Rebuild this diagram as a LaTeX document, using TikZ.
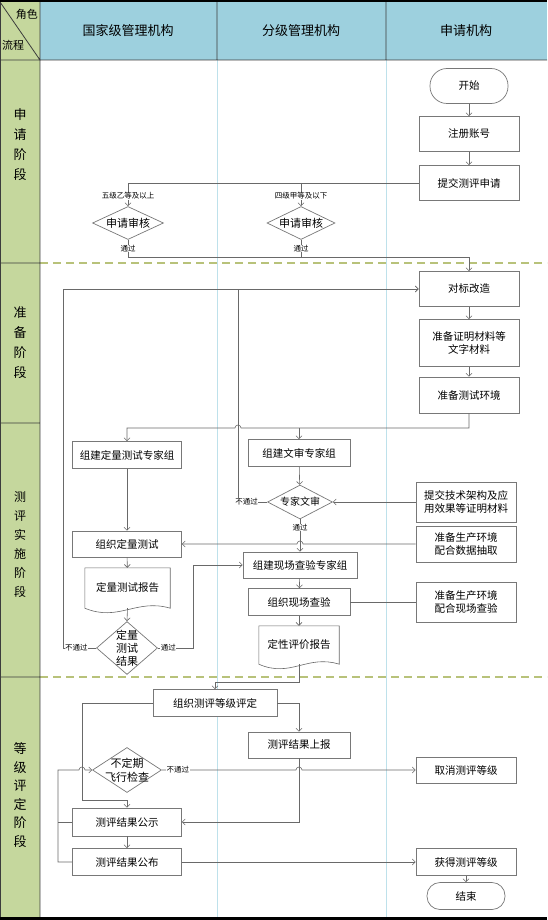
\documentclass[tikz,border=0pt]{standalone}
\usepackage{fontspec}
\setmainfont{Noto Sans CJK SC}
\usepackage{tikz}
\usetikzlibrary{arrows.meta,shapes.geometric,calc}
\definecolor{flowhead}{RGB}{157,208,222}
\definecolor{flowside}{RGB}{197,215,157}
\definecolor{flowlane}{RGB}{190,225,235}
\definecolor{flowdash}{RGB}{184,194,122}
\definecolor{flowline}{RGB}{105,105,105}
\definecolor{flowedge}{RGB}{120,120,120}
\definecolor{flowdark}{RGB}{60,60,60}

\begin{document}
\begin{tikzpicture}[
  x=1pt,y=-1pt,
  >={Straight Barb[length=3pt,width=6pt]},
  box/.style 2 args={draw=flowedge,fill=white,line width=0.7pt,minimum width=#1,
                     minimum height=#2,inner sep=1pt,align=center,
                     font=\fontsize{10.5}{13}\selectfont},
  term/.style 2 args={box={#1}{#2},rounded corners=12pt},
  dia/.style 2 args={diamond,draw=flowedge,fill=white,line width=0.7pt,
                     minimum width=#1,minimum height=#2,inner sep=0pt},
  doc/.style 2 args={minimum width=#1,minimum height=#2,inner sep=0pt,
                     align=center,font=\fontsize{10.5}{13}\selectfont},
  dtext/.style={align=center,inner sep=0pt,font=\fontsize{11}{13.5}\selectfont},
  headtext/.style={font=\fontsize{13}{15}\selectfont},
  sidetext/.style={align=center,font=\fontsize{13}{20}\selectfont},
  line/.style={draw=flowline,line width=0.6pt},
  arr/.style={line,->},
  lbl/.style={fill=white,inner sep=0.5pt,font=\fontsize{7.5}{9}\selectfont},
]
\useasboundingbox (0,0) rectangle (547,920);

%% ── Header row and phase column ─────────────────────────────────────────────
\fill[flowhead] (40,0) rectangle (547,60);
\fill[flowside] (0,0) rectangle (40,917);
\draw[flowlane,line width=0.8pt] (217,60) -- (217,917) (386,60) -- (386,917);
\draw[flowdash,line width=1.2pt,dash pattern=on 8pt off 5pt]
  (40,263) -- (547,263) (40,677) -- (547,677);
\draw[flowdark,line width=0.8pt]
  (0,60) -- (547,60) (40,0) -- (40,917) (217,0) -- (217,60) (386,0) -- (386,60)
  (0,263) -- (40,263) (0,423) -- (40,423) (0,677) -- (40,677) (0,2) -- (40,60)
  (0.5,0) -- (0.5,920);
\fill[black] (0,0) rectangle (547,2);
\fill[black] (0,917) rectangle (547,920);

\node[font=\fontsize{11}{13}\selectfont] (hRole) at (27,14) {角色};
\node[font=\fontsize{11}{13}\selectfont] (hFlow) at (13,45) {流程};
\node[headtext] (hNat) at (128,31) {国家级管理机构};
\node[headtext] (hLvl) at (301,31) {分级管理机构};
\node[headtext] (hApp) at (466,31) {申请机构};

\node[sidetext] (pApply) at (20,145) {申\\请\\阶\\段};
\node[sidetext] (pPrep)  at (20,343) {准\\备\\阶\\段};
\node[sidetext,font=\fontsize{12}{19}\selectfont] (pTest) at (20,545) {测\\评\\实\\施\\阶\\段};
\node[sidetext,font=\fontsize{13}{18.5}\selectfont] (pGrade) at (20,795) {等\\级\\评\\定\\阶\\段};

%% ── Application phase ───────────────────────────────────────────────────────
\node[term={78pt}{35pt},rounded corners=17pt] (start) at (469,86) {开始};
\node[box={100pt}{35pt}] (reg) at (469,134) {注册账号};
\node[box={100pt}{35pt}] (submit) at (469,183) {提交测评申请};

\node[dia={71pt}{33pt}] (chkA) at (128,223) {};
\node[dtext] at (chkA) {申请审核};
\node[dia={68pt}{33pt}] (chkB) at (301,223) {};
\node[dtext] at (chkB) {申请审核};

%% ── Preparation phase ───────────────────────────────────────────────────────
\node[box={100pt}{35pt}] (reform) at (469,289) {对标改造};
\node[box={100pt}{47pt}] (docs) at (469,343) {准备证明材料等\\文字材料};
\node[box={100pt}{36pt}] (env) at (469,395) {准备测试环境};

%% ── Evaluation phase ────────────────────────────────────────────────────────
\node[box={109pt}{27pt}] (qgrp) at (127,455) {组建定量测试专家组};
\node[box={102pt}{27pt}] (wgrp) at (299,453) {组建文审专家组};
\node[dia={65pt}{34pt}] (wrev) at (300,502) {};
\node[dtext,font=\fontsize{10}{12}\selectfont] at (wrev) {专家文审};
\node[box={100pt}{40pt}] (subtech) at (466,502) {提交技术架构及应\\用效果等证明材料};

\node[box={109pt}{26pt}] (qtest) at (127,544) {组织定量测试};
\node[box={100pt}{36pt}] (prepA) at (466,544) {准备生产环境\\配合数据抽取};

\node[doc={85pt}{40pt}] (qrep) at (127.5,588) {定量测试报告};
\draw[line,fill=white] (qrep.south west) -- (qrep.north west) -- (qrep.north east)
  -- (qrep.south east) .. controls +(-34,-10) and +(34,14) .. (qrep.south west);
\node[doc={85pt}{40pt}] at (qrep) {定量测试报告};
\node[dia={61pt}{53pt}] (qres) at (127,648) {};
\node[dtext,font=\fontsize{11}{13}\selectfont] at (qres) {定量\\测试\\结果};

\node[box={114pt}{26pt}] (sgrp) at (300,565) {组建现场查验专家组};
\node[box={102pt}{27pt}] (scheck) at (299,602) {组织现场查验};
\node[box={100pt}{40pt}] (prepB) at (466,602) {准备生产环境\\配合现场查验};

\node[doc={80pt}{38pt}] (srep) at (299,645) {定性评价报告};
\draw[line,fill=white] (srep.south west) -- (srep.north west) -- (srep.north east)
  -- (srep.south east) .. controls +(-32,-10) and +(32,14) .. (srep.south west);
\node[doc={80pt}{38pt}] at (srep) {定性评价报告};

%% ── Grading phase ───────────────────────────────────────────────────────────
\node[box={124pt}{27pt}] (grade) at (215,703) {组织测评等级评定};
\node[box={102pt}{26pt}] (report) at (299,745) {测评结果上报};
\node[dia={69pt}{45pt}] (fly) at (127,770) {};
\node[dtext,font=\fontsize{11}{14}\selectfont] at (fly) {不定期\\飞行检查};
\node[box={100pt}{26pt}] (cancel) at (466,770) {取消测评等级};
\node[box={109pt}{28pt}] (notice) at (127,822) {测评结果公示};
\node[box={109pt}{27pt}] (publish) at (127,862) {测评结果公布};
\node[box={100pt}{27pt}] (obtain) at (466,862) {获得测评等级};
\node[term={78pt}{27pt},rounded corners=13pt] (finish) at (466,896) {结束};

%% ── Connectors ──────────────────────────────────────────────────────────────
\draw[arr] (start) -- (reg);
\draw[arr] (reg) -- (submit);
\draw[arr] (submit.west) -| node[lbl,pos=0.78]{五级乙等及以上} (chkA.north);
\draw[arr] (submit.west -| chkB.north) -- node[lbl,pos=0.55]{四级甲等及以下} (chkB.north);

\coordinate (passBus) at (469,257);
\draw[arr] (chkA.south) -- node[lbl]{通过} (chkA.south |- passBus) -- (passBus) -- (reform.north);
\draw[line] (chkB.south) -- node[lbl]{通过} (chkB.south |- passBus);

\draw[arr] (reform) -- (docs);
\draw[arr] (docs) -- (env);
\draw[arr] (env.south) |- (241,428) arc[start angle=0,end angle=180,radius=3pt] -| (qgrp.north);
\draw[arr] (wgrp.north |- 0,428) -- (wgrp.north);

\draw[arr] (wgrp) -- (wrev);
\draw[arr] (subtech) -- (wrev);
\draw[arr] (wrev.west) -- node[lbl,pos=0.7]{不通过} (238,502) |- (reform.west);
\draw[arr] (wrev.south) -- node[lbl,pos=0.25]{通过} (sgrp.north);

\draw[arr] (qgrp) -- (qtest);
\draw[arr] (prepA.west) -- (303,544) arc[start angle=0,end angle=180,radius=3pt] -- (qtest.east);
\draw[arr] (qtest) -- (qrep);
\draw[arr] (qrep.south) -- (qres.north);
\draw[arr] (qres.west) -- node[lbl,pos=0.6]{不通过} (63,648) |- (reform.west);
\draw[arr] (qres.east) -- node[lbl,pos=0.3]{通过} (193,648) |- (sgrp.west);

\draw[arr] (sgrp) -- (scheck);
\draw[arr] (scheck) -- (srep);
\draw[line] (prepB.west) -- (scheck.east);

\draw[arr] (srep.south) -- (299,682) -| (grade.north);
\draw[arr] (grade.east) -| (report.north);
\draw[arr] (grade.west) -| (82,800) -| (notice.north);
\draw[arr] (report.south) |- (notice.east);
\draw[arr] (fly.east) -- node[lbl,pos=0.12]{不通过} (296,770)
  arc[start angle=180,end angle=0,radius=3pt] -- (cancel.west);
\draw[arr] (publish.west) -- (58,862) |- (79,770)
  arc[start angle=180,end angle=0,radius=3pt] -- (fly.west);
\draw[line] (notice.west) -- (58,822);
\draw[arr] (notice) -- (publish);
\draw[arr] (publish) -- (obtain);
\draw[arr] (obtain) -- (finish);

\end{tikzpicture}
\end{document}
